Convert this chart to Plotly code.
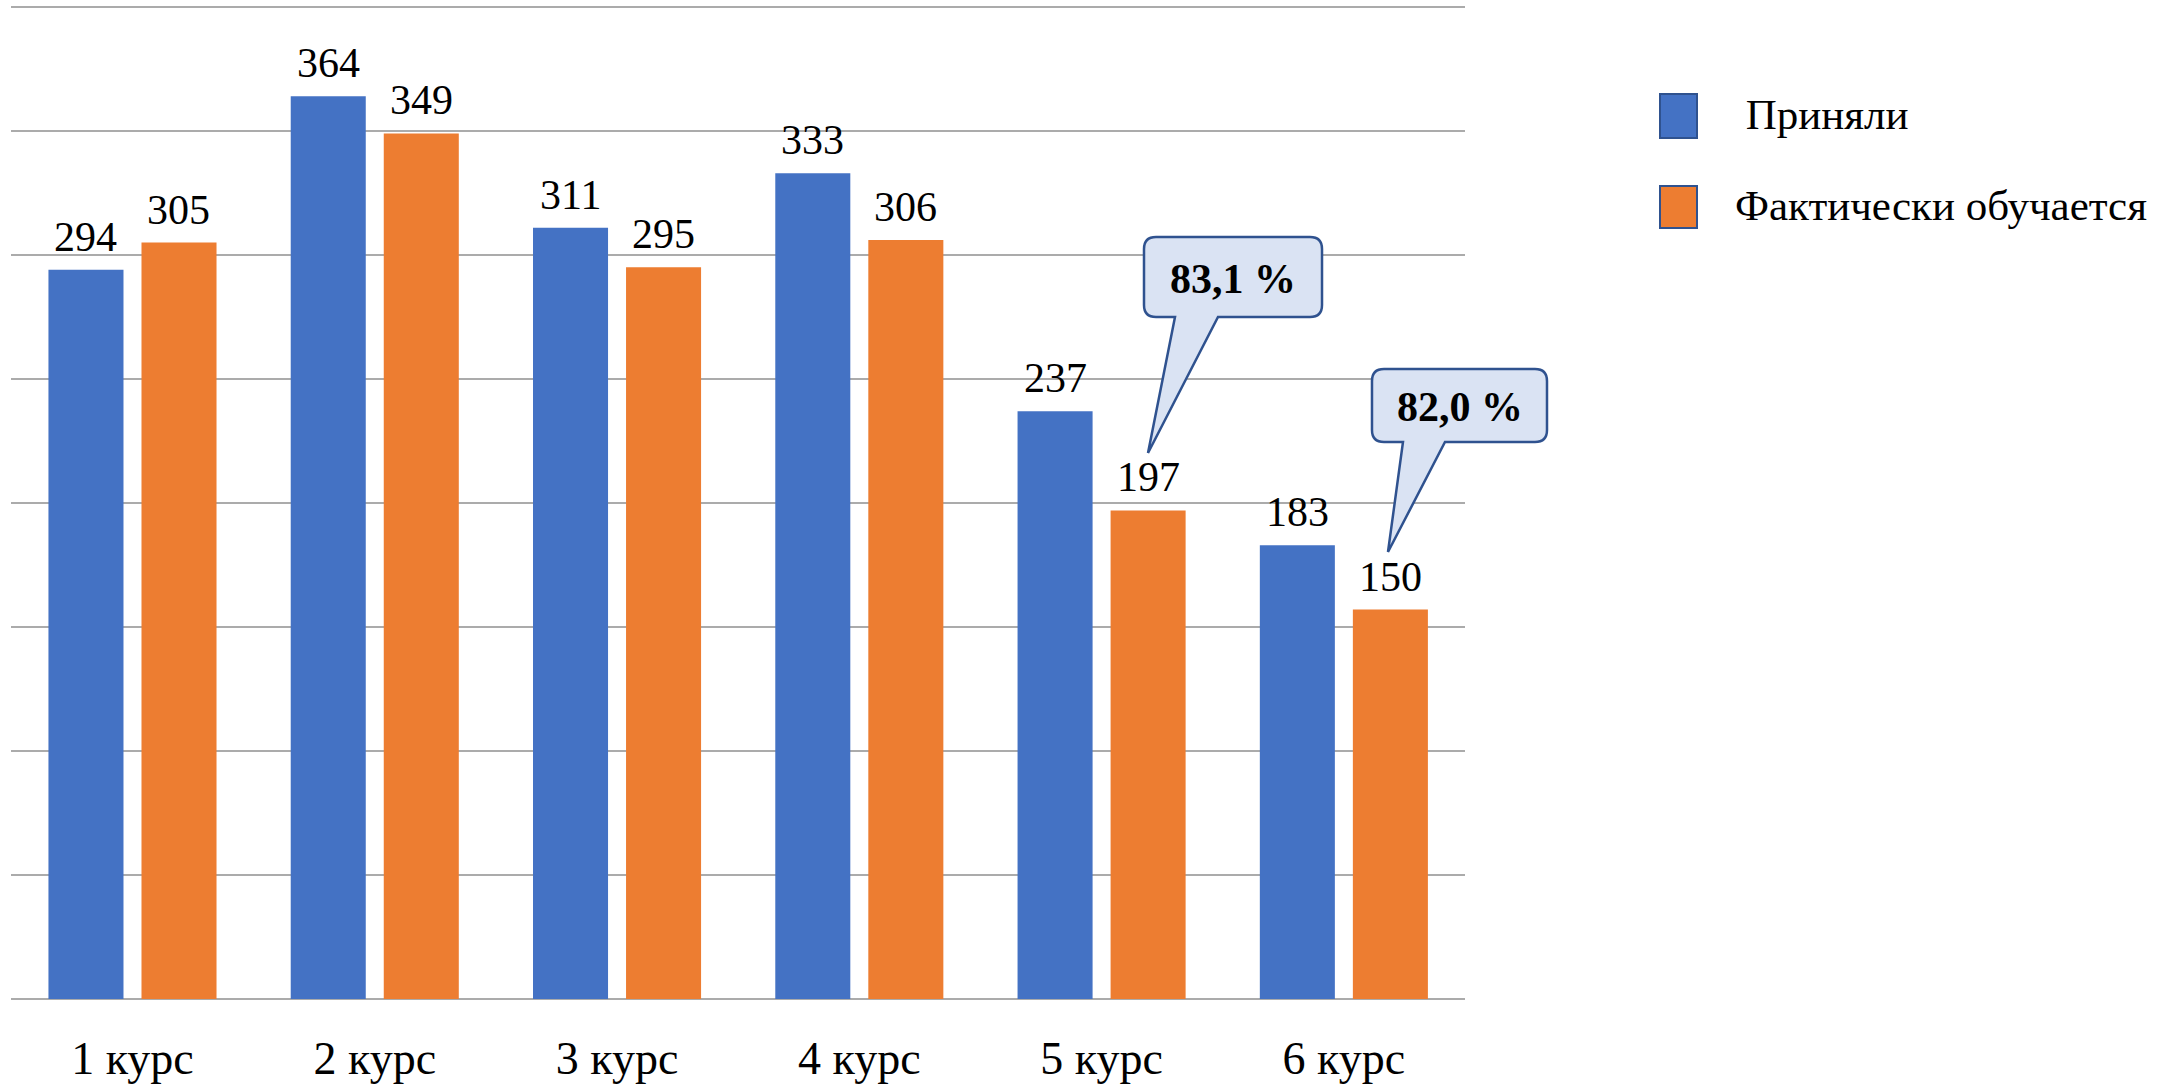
import plotly.graph_objects as go

# ---------------- data ----------------
categories = ["1 курс", "2 курс", "3 курс", "4 курс", "5 курс", "6 курс"]
admitted = [294, 364, 311, 333, 237, 183]
# bar heights as drawn in the picture (the last bar is drawn slightly above its label value)
enrolled = [305, 349, 295, 306, 197, 157]
# data labels as printed in the picture
admitted_labels = [294, 364, 311, 333, 237, 183]
enrolled_labels = [305, 349, 295, 306, 197, 150]
series_names = [" Приняли", "Фактически обучается"]
callout_categories = ["5 курс", "6 курс"]

# ---------------- style ----------------
W, H = 2174, 1084
BLUE = "#4472C4"
ORANGE = "#ED7D31"
GRID = "#ABABAB"
FONT = "Liberation Serif, Times New Roman, DejaVu Serif, serif"
CALLOUT_FILL = "#DAE3F3"
CALLOUT_LINE = "#2F528F"
BAR_OFFSET_PX = 46.5
LABEL_SHIFT = 8

def px(x):
    return x / W

def py(y):
    return 1 - y / H

fig = go.Figure()
fig.add_trace(go.Bar(
    x=categories, y=admitted, name=series_names[0],
    marker=dict(color=BLUE, line=dict(width=0)), showlegend=False,
))
fig.add_trace(go.Bar(
    x=categories, y=enrolled, name=series_names[1],
    marker=dict(color=ORANGE, line=dict(width=0)), showlegend=False,
))

shapes = []
annotations = []

# ----- data labels -----
for vals, labels, shift in ((admitted, admitted_labels, -BAR_OFFSET_PX),
                            (enrolled, enrolled_labels, BAR_OFFSET_PX)):
    for c, v, lab in zip(categories, vals, labels):
        annotations.append(dict(xref="x", yref="y", x=c, y=v, text=str(lab),
                                xshift=shift, yshift=LABEL_SHIFT, showarrow=False,
                                xanchor="center", yanchor="bottom",
                                font=dict(family=FONT, size=42, color="black")))

# ----- callouts (percent of admitted still studying) -----
callout_boxes = [
    # left, right, top, bottom, base_l, base_r, tip_x, tip_y (pixels)
    (1144, 1322, 237, 317, 1175, 1218, 1148, 453),
    (1372, 1547, 369, 442, 1403, 1445, 1388, 552),
]
for cat, box in zip(callout_categories, callout_boxes):
    i = categories.index(cat)
    pct = enrolled_labels[i] / admitted_labels[i] * 100
    label = f"{pct:.1f}".replace(".", ",") + " %"
    l, r_, t, b, bl, br, tx, ty = box
    rad = 12
    pts = [
        ("M", [(l + rad, t)]),
        ("L", [(r_ - rad, t)]),
        ("Q", [(r_, t), (r_, t + rad)]),
        ("L", [(r_, b - rad)]),
        ("Q", [(r_, b), (r_ - rad, b)]),
        ("L", [(br, b)]),
        ("L", [(tx, ty)]),
        ("L", [(bl, b)]),
        ("L", [(l + rad, b)]),
        ("Q", [(l, b), (l, b - rad)]),
        ("L", [(l, t + rad)]),
        ("Q", [(l, t), (l + rad, t)]),
    ]
    path = ""
    for cmd, coords in pts:
        path += cmd + " " + " ".join(f"{px(x):.5f},{py(y):.5f}" for x, y in coords) + " "
    path += "Z"
    shapes.append(dict(type="path", xref="paper", yref="paper", path=path,
                       fillcolor=CALLOUT_FILL, line=dict(color=CALLOUT_LINE, width=2.5),
                       layer="above"))
    annotations.append(dict(xref="paper", yref="paper", x=px((l + r_) / 2), y=py((t + b) / 2 + 2),
                            text=f"<b>{label}</b>", showarrow=False,
                            font=dict(family=FONT, size=42, color="black"),
                            xanchor="center", yanchor="middle"))

# ----- custom legend -----
legend_items = [
    (series_names[0], BLUE, 94, 138),
    (series_names[1], ORANGE, 186, 228),
]
for name, color, top, bottom in legend_items:
    shapes.append(dict(type="rect", xref="paper", yref="paper",
                       x0=px(1660), x1=px(1697), y0=py(bottom), y1=py(top),
                       fillcolor=color, line=dict(color=CALLOUT_LINE, width=2)))
    annotations.append(dict(xref="paper", yref="paper", x=px(1733), y=py((top + bottom) / 2 - 2),
                            text=name, showarrow=False,
                            font=dict(family=FONT, size=43, color="black"),
                            xanchor="left", yanchor="middle"))

fig.update_layout(
    width=W, height=H,
    margin=dict(l=0, r=0, t=0, b=0),
    paper_bgcolor="white", plot_bgcolor="white",
    barmode="group", bargap=0.232, bargroupgap=0.1935,
    shapes=shapes, annotations=annotations,
    showlegend=False,
    font=dict(family=FONT, color="black"),
    xaxis=dict(domain=[px(11.35), px(1465)], type="category",
               showgrid=False, showline=False, ticks="",
               tickfont=dict(family=FONT, size=46, color="black"),
               ticklabelstandoff=28),
    yaxis=dict(domain=[py(999), py(2)], range=[0, 402], tickvals=[0, 50, 100, 150, 200, 250, 300, 350, 400],
               showticklabels=False, showgrid=True, gridcolor=GRID, gridwidth=2,
               zeroline=True, zerolinecolor=GRID, zerolinewidth=2, showline=False),
)

fig.write_html("out.html", config={"displayModeBar": False},
               post_script="document.body.style.margin='0';document.body.style.overflow='hidden';")
